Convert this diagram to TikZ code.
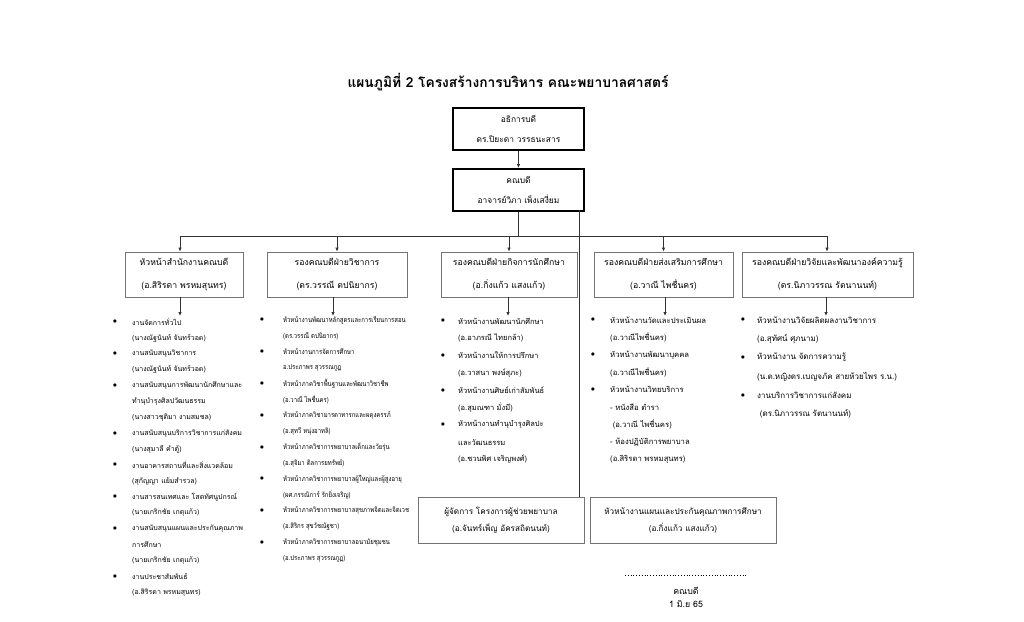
\documentclass[tikz,border=0pt]{standalone}
\usepackage{fontspec}
\setmainfont{Liberation Serif}
\newfontfamily\thai[Script=Thai]{Loma}
\newfontfamily\thainarrow[Script=Thai, FakeStretch=0.85]{Loma}
\usetikzlibrary{arrows.meta}
\begin{document}
\begin{tikzpicture}[x=1pt,y=-1pt,
  topbox/.style={draw, line width=2pt, minimum width=131pt, minimum height=42pt, align=center, inner sep=0pt, font=\thai\fontsize{8.4}{20}\selectfont},
  deptbox/.style={draw=black!55, line width=0.8pt, minimum height=45pt, align=center, inner sep=0pt, font=\thai\fontsize{8.7}{23}\selectfont},
  lowbox/.style={draw=black!55, line width=0.8pt, minimum height=46pt, align=center, inner sep=0pt, font=\thai\fontsize{8.2}{17}\selectfont},
  lt/.style={anchor=west, inner sep=0pt},
  bul/.style={inner sep=0pt, font=\fontsize{8}{8}\selectfont},
  conn/.style={line width=0.8pt, black!80},
  arr/.style={conn, -{Latex[length=4pt,width=3.5pt]}}]
\useasboundingbox (0,0) rectangle (1024,621);
\fill[white] (0,0) rectangle (1024,621);

\node[font=\thai\bfseries\fontsize{13.8}{16}\selectfont, inner sep=0pt] (title) at (508,82) {แผนภูมิที่ 2 โครงสร้างการบริหาร คณะพยาบาลศาสตร์};

\node[topbox] (pres) at (518.5,128.5) {อธิการบดี\\ดร.ปิยะดา วรรธนะสาร};
\node[topbox] (dean) at (518.5,190) {คณบดี\\อาจารย์วิภา เพ็งเสงี่ยม};
\draw[arr] (pres) -- (dean);

\node[deptbox, minimum width=118pt] (d1) at (184,274.5) {หัวหน้าสำนักงานคณบดี\\(อ.สิริรดา พรหมสุนทร)};
\node[deptbox, minimum width=140pt] (d2) at (337,274.5) {รองคณบดีฝ่ายวิชาการ\\(ดร.วรรณี ตปนิยากร)};
\node[deptbox, minimum width=136pt] (d3) at (509,274.5) {รองคณบดีฝ่ายกิจการนักศึกษา\\(อ.กิ่งแก้ว แสงแก้ว)};
\node[deptbox, minimum width=139pt] (d4) at (663.5,274.5) {รองคณบดีฝ่ายส่งเสริมการศึกษา\\(อ.วาณี ไพชื่นคร)};
\node[deptbox, minimum width=171pt] (d5) at (827.5,274.5) {รองคณบดีฝ่ายวิจัยและพัฒนาองค์ความรู้\\(ดร.นิภาวรรณ รัตนานนท์)};

\coordinate (busL) at (180,236);
\coordinate (busR) at (827,236);
\draw[conn] (dean.south) -- (dean.south |- busL);
\draw[conn] (busL) -- (busR);
\draw[arr] (busL) -- (busL |- d1.north);
\draw[arr] (d2.north |- busL) -- (d2.north);
\draw[arr] (d3.north |- busL) -- (d3.north);
\draw[arr] (d4.north |- busL) -- (d4.north);
\draw[arr] (busR) -- (busR |- d5.north);

\coordinate (l1) at (180,316);
\coordinate (l2) at (333,316);
\coordinate (l3) at (508,316);
\coordinate (l4) at (665,316);
\coordinate (l5) at (826,316);
\draw[arr] (l1 |- d1.south) -- (l1);
\draw[arr] (l2 |- d2.south) -- (l2);
\draw[arr] (l3 |- d3.south) -- (l3);
\draw[arr] (l4 |- d4.south) -- (l4);
\draw[arr] (l5 |- d5.south) -- (l5);

% column 1
\foreach \b/\t [count=\i] in {1/{งานจัดการทั่วไป},0/{(นางณัฐนันท์ จันทร์วอด)},1/{งานสนับสนุนวิชาการ},0/{(นางณัฐนันท์ จันทร์วอด)},1/{งานสนับสนุนการพัฒนานักศึกษาและ},0/{ทำนุบำรุงศิลปวัฒนธรรม},0/{(นางสาวชุติมา งามสมชล)},1/{งานสนับสนุนบริการวิชาการแก่สังคม},0/{(นางสุมาลี คำตู้)},1/{งานอาคารสถานที่และสิ่งแวดล้อม},0/{(สุกัญญา แย้มสำรวล)},1/{งานสารสนเทศและ โสตทัศนูปกรณ์},0/{(นายเกริกชัย เกตุแก้ว)},1/{งานสนับสนุนแผนและประกันคุณภาพ},0/{การศึกษา},0/{(นายเกริกชัย เกตุแก้ว)},1/{งานประชาสัมพันธ์},0/{(อ.สิริรดา พรหมสุนทร)}}{
  \node[lt, font=\thai\fontsize{7}{8}\selectfont] (a\i) at (132,{322+(\i-1)*15.9}) {\t};
  \ifnum\b=1 \node[bul] (ab\i) at (115,{322+(\i-1)*15.9}) {$\bullet$};\fi
}
% column 2
\foreach \b/\t [count=\i] in {1/{หัวหน้างานพัฒนาหลักสูตรและการเรียนการสอน},0/{(ดร.วรรณี ตปนิยากร)},1/{หัวหน้างานการจัดการศึกษา},0/{อ.ประภาพร สุวรรณกูฏ},1/{หัวหน้าภาควิชาพื้นฐานและพัฒนาวิชาชีพ},0/{(อ.วาณี ไพชื่นคร)},1/{หัวหน้าภาควิชามารดาทารกและผดุงครรภ์},0/{(อ.สุทวี หนุ่งอาทลิ)},1/{หัวหน้าภาควิชาการพยาบาลเด็กและวัยรุ่น},0/{(อ.สุจิมา ติลการยทรัพย์)},1/{หัวหน้าภาควิชาการพยาบาลผู้ใหญ่และผู้สูงอายุ},0/{(ผศ.กรรณิการ์ รักยิ่งเจริญ)},1/{หัวหน้าภาควิชาการพยาบาลสุขภาพจิตและจิตเวช},0/{(อ.สิริกร สุขวัชณัฐชา)},1/{หัวหน้าภาควิชาการพยาบาลอนามัยชุมชน},0/{(อ.ประภาพร สุวรรณกูฏ)}}{
  \node[lt, font=\thainarrow\fontsize{7}{8}\selectfont] (b\i) at (283,{320+(\i-1)*15.9}) {\t};
  \ifnum\b=1 \node[bul] (bb\i) at (262,{320+(\i-1)*15.9}) {$\bullet$};\fi
}
% column 3
\foreach \b/\t [count=\i] in {1/{หัวหน้างานพัฒนานักศึกษา},0/{(อ.อาภรณี ไทยกล้า)},1/{หัวหน้างานให้การปรึกษา},0/{(อ.วาสนา พงษ์สุภะ)},1/{หัวหน้างานศิษย์เก่าสัมพันธ์},0/{(อ.สุมณฑา มั่งมี)},1/{หัวหน้างานทำนุบำรุงศิลปะ},0/{และวัฒนธรรม},0/{(อ.ชวนพิศ เจริญพงศ์)}}{
  \node[lt, font=\thai\fontsize{7.5}{8}\selectfont] (c\i) at (458,{321+(\i-1)*17.3}) {\t};
  \ifnum\b=1 \node[bul] (cb\i) at (443,{321+(\i-1)*17.3}) {$\bullet$};\fi
}
% column 4
\foreach \b/\t [count=\i] in {1/{หัวหน้างานวัดและประเมินผล},0/{(อ.วาณีไพชื่นคร)},1/{หัวหน้างานพัฒนาบุคคล},0/{(อ.วาณีไพชื่นคร)},1/{หัวหน้างานวิทยบริการ},0/{- หนังสือ ตำรา},0/{\ (อ.วาณี ไพชื่นคร)},0/{- ห้องปฏิบัติการพยาบาล},0/{(อ.สิริรดา พรหมสุนทร)}}{
  \node[lt, font=\thai\fontsize{7.7}{8}\selectfont] (e\i) at (610,{320+(\i-1)*17.4}) {\t};
  \ifnum\b=1 \node[bul] (eb\i) at (593,{320+(\i-1)*17.4}) {$\bullet$};\fi
}
% column 5
\foreach \b/\t [count=\i] in {1/{หัวหน้างานวิจัยผลิตผลงานวิชาการ},0/{(อ.สุทัศน์ ศุภนาม)},1/{หัวหน้างาน จัดการความรู้},0/{(น.ต.หญิงดร.เบญจภัค สายห้วยไพร ร.น.)},1/{งานบริการวิชาการแก่สังคม},0/{\ (ดร.นิภาวรรณ รัตนานนท์)}}{
  \node[lt, font=\thai\fontsize{8}{8}\selectfont] (f\i) at (757,{320+(\i-1)*18.8}) {\t};
  \ifnum\b=1 \node[bul] (fb\i) at (743,{320+(\i-1)*18.8}) {$\bullet$};\fi
}

\node[lowbox, minimum width=166pt] (p1) at (501,520) {ผู้จัดการ โครงการผู้ช่วยพยาบาล\\(อ.จันทร์เพ็ญ อัครสถิตนนท์)};
\node[lowbox, minimum width=186pt] (p2) at (683,520) {หัวหน้างานแผนและประกันคุณภาพการศึกษา\\(อ.กิ่งแก้ว แสงแก้ว)};
\coordinate (vtop) at (579,210);
\draw[conn] (vtop) -- (vtop |- p1.north);

\coordinate (sigL) at (625,575);
\coordinate (sigR) at (746,575);
\draw[dotted, line width=0.8pt] (sigL) -- (sigR);
\node[font=\thai\fontsize{8.8}{9}\selectfont, inner sep=0pt] (sig1) at (686,591) {คณบดี};
\node[font=\thai\fontsize{8.8}{9}\selectfont, inner sep=0pt] (sig2) at (686,604) {1 มิ.ย 65};
\end{tikzpicture}
\end{document}
